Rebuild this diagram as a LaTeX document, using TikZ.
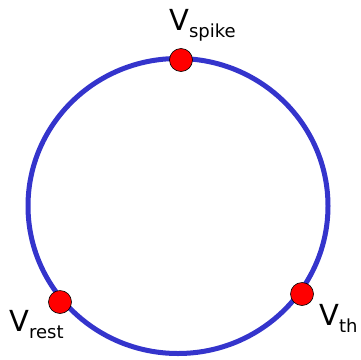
\documentclass[tikz,border=0pt]{standalone}
\usepackage{fontspec}
\setmainfont{DejaVu Sans}
\begin{document}
\begin{tikzpicture}[x=1pt,y=-1pt,
  ring/.style={draw={rgb,255:red,52;green,52;blue,204}, line width=5pt},
  dot/.style={circle, fill=red, draw=black, line width=0.6pt, minimum size=23pt, inner sep=0pt},
  lab/.style={inner sep=0pt, anchor=base west, font=\fontsize{29}{29}\selectfont},
]
\useasboundingbox (0,0) rectangle (361,359);
\draw[ring] (178,206) ellipse [x radius=150, y radius=147.5];
\node[dot] (spike) at (181,60) {};
\node[dot] (rest) at (60,302) {};
\node[dot] (th) at (302,294) {};
\node[lab] (lspike) at (169,30) {V\raisebox{-7pt}{\fontsize{18}{18}\selectfont spike}};
\node[lab] (lrest) at (9,331) {V\raisebox{-7pt}{\fontsize{18}{18}\selectfont rest}};
\node[lab] (lth) at (319,325) {V\raisebox{-7pt}{\fontsize{18}{18}\selectfont th}};
\end{tikzpicture}
\end{document}
